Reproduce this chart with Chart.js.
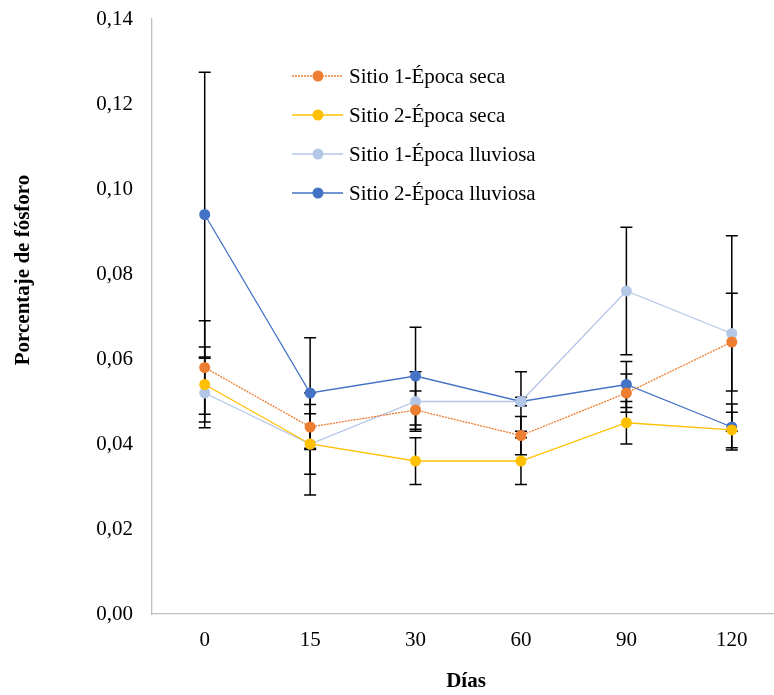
<!DOCTYPE html>
<html>
<head>
<meta charset="utf-8">
<script src="https://cdn.jsdelivr.net/npm/chart.js@4.4.1/dist/chart.umd.min.js"></script>
<style>
  body { margin: 0; overflow: hidden; background: #fff; }
  #wrap { width: 790px; height: 695px; }
</style>
</head>
<body>
<div id="wrap"><canvas id="line-chart"></canvas></div>
<script>
const dias = ['0', '15', '30', '60', '90', '120'];

const sitio1Seca = [0.058, 0.044, 0.048, 0.042, 0.052, 0.064];
const errSitio1Seca = [0.011, 0.0053, 0.0045, 0.0045, 0.0045, 0.0115];

const sitio2Seca = [0.054, 0.040, 0.036, 0.036, 0.045, 0.0433];
const errSitio2Seca = [0.0088, 0.012, 0.0055, 0.0055, 0.005, 0.0042];

const sitio1Lluviosa = [0.052, 0.040, 0.050, 0.050, 0.076, 0.066];
const errSitio1Lluviosa = [0.0082, 0.0071, 0.007, 0.001, 0.015, 0.023];

const sitio2Lluviosa = [0.094, 0.052, 0.056, 0.050, 0.054, 0.044];
const errSitio2Lluviosa = [0.0335, 0.013, 0.0115, 0.007, 0.0054, 0.0054];

const FONT = "'Liberation Serif', 'Times New Roman', serif";

function serie(label, data, errors, color, dash) {
  return {
    label: label,
    data: data,
    errors: errors,
    borderColor: color,
    backgroundColor: color,
    borderWidth: 1.3,
    borderDash: dash || [],
    pointRadius: 5.5,
    pointHoverRadius: 5.5,
    pointBorderWidth: 0,
    tension: 0
  };
}

// barras de error, dibujadas debajo de las lineas
const errorBars = {
  id: 'errorBars',
  beforeDatasetsDraw(chart) {
    const ctx = chart.ctx;
    const y = chart.scales.y;
    ctx.save();
    ctx.strokeStyle = '#000';
    ctx.lineWidth = 1.5;
    chart.data.datasets.forEach((ds, i) => {
      const meta = chart.getDatasetMeta(i);
      meta.data.forEach((pt, j) => {
        const v = ds.data[j], e = ds.errors[j];
        const top = y.getPixelForValue(v + e);
        const bot = y.getPixelForValue(v - e);
        ctx.beginPath();
        ctx.moveTo(pt.x, top); ctx.lineTo(pt.x, bot);
        ctx.moveTo(pt.x - 6, top); ctx.lineTo(pt.x + 6, top);
        ctx.moveTo(pt.x - 6, bot); ctx.lineTo(pt.x + 6, bot);
        ctx.stroke();
      });
    });
    ctx.restore();
  }
};

// leyenda dentro del area y titulos de los ejes
const extras = {
  id: 'extras',
  afterDraw(chart) {
    const ctx = chart.ctx;
    const area = chart.chartArea;
    ctx.save();
    ctx.font = '21px ' + FONT;
    ctx.textBaseline = 'middle';
    chart.data.datasets.forEach((ds, i) => {
      const yy = area.top + 57 + i * 39;
      const x0 = area.left + 140;
      ctx.strokeStyle = ds.borderColor;
      ctx.lineWidth = 1.3;
      ctx.setLineDash(ds.borderDash);
      ctx.beginPath();
      ctx.moveTo(x0, yy); ctx.lineTo(x0 + 51, yy);
      ctx.stroke();
      ctx.setLineDash([]);
      ctx.fillStyle = ds.backgroundColor;
      ctx.beginPath();
      ctx.arc(x0 + 26, yy, 5.5, 0, Math.PI * 2);
      ctx.fill();
      ctx.fillStyle = '#000';
      ctx.textAlign = 'left';
      ctx.fillText(ds.label, x0 + 57, yy + 1);
    });

    ctx.font = 'bold 21px ' + FONT;
    ctx.fillStyle = '#000';
    ctx.textAlign = 'center';
    ctx.fillText('Días', 466, 682);
    ctx.translate(24, 270);
    ctx.rotate(-Math.PI / 2);
    ctx.fillText('Porcentaje de fósforo', 0, 0);
    ctx.restore();
  }
};

const config = {
  type: 'line',
  data: {
    labels: dias,
    datasets: [
      serie('Sitio 1-Época seca', sitio1Seca, errSitio1Seca, '#ED7D31', [2, 1]),
      serie('Sitio 2-Época seca', sitio2Seca, errSitio2Seca, '#FFC000'),
      serie('Sitio 1-Época lluviosa', sitio1Lluviosa, errSitio1Lluviosa, '#B4C7E7'),
      serie('Sitio 2-Época lluviosa', sitio2Lluviosa, errSitio2Lluviosa, '#4472C4')
    ]
  },
  options: {
    responsive: true,
    maintainAspectRatio: false,
    animation: false,
    layout: { padding: { top: 19, right: 3, left: 0, bottom: 0 } },
    plugins: {
      legend: { display: false },
      tooltip: { enabled: false }
    },
    scales: {
      x: {
        offset: true,
        grid: { display: false, drawTicks: false, offset: true },
        border: { display: true, color: '#BFBFBF', width: 1.3 },
        ticks: { color: '#000', font: { family: FONT, size: 21 }, padding: 14 },
        afterFit(scale) { scale.height = 81; }
      },
      y: {
        min: 0,
        max: 0.14,
        grid: { display: false, drawTicks: false },
        border: { display: true, color: '#BFBFBF', width: 1.3 },
        ticks: {
          stepSize: 0.02,
          color: '#000',
          font: { family: FONT, size: 21 },
          padding: 19,
          callback: v => v.toFixed(2).replace('.', ',')
        },
        afterFit(scale) {
          scale.width = 152;
          scale.paddingTop = 0;
          scale.paddingBottom = 0;
        }
      }
    }
  },
  plugins: [errorBars, extras]
};

const ctx = document.getElementById('line-chart').getContext('2d');
new Chart(ctx, config);
</script>
</body>
</html>
